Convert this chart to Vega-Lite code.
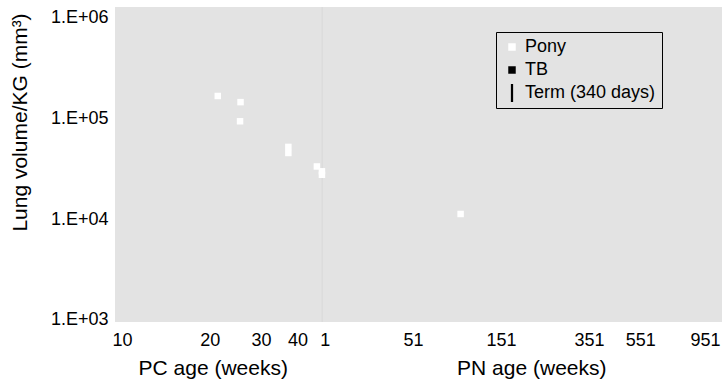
{
  "$schema": "https://vega.github.io/schema/vega-lite/v6.json",
  "width": 607,
  "height": 315,
  "autosize": {"type": "none"},
  "padding": {"left": 115, "top": 7, "right": 2, "bottom": 58},
  "background": "#ffffff",
  "config": {
    "font": "Liberation Sans",
    "view": {"fill": "#e3e3e3", "stroke": null},
    "axis": {"grid": false, "domain": false, "ticks": false, "labelColor": "#000000", "titleColor": "#000000", "titleFontWeight": "normal"}
  },
  "datasets": {
    "points": [
      {"series": "Pony", "pc_weeks": 21.3, "lung_volume_per_kg": 168000},
      {"series": "Pony", "pc_weeks": 25.5, "lung_volume_per_kg": 146000},
      {"series": "Pony", "pc_weeks": 25.4, "lung_volume_per_kg": 94200},
      {"series": "Pony", "pc_weeks": 37.2, "lung_volume_per_kg": 52400},
      {"series": "Pony", "pc_weeks": 37.2, "lung_volume_per_kg": 45600},
      {"series": "Pony", "pc_weeks": 46.6, "lung_volume_per_kg": 33500},
      {"series": "Pony", "pc_weeks": 48.5, "lung_volume_per_kg": 30000},
      {"series": "Pony", "pc_weeks": 48.5, "lung_volume_per_kg": 27700},
      {"series": "Pony", "pc_weeks": 145, "lung_volume_per_kg": 11300}
    ],
    "term": [
      {"series": "Term (340 days)", "pc_weeks": 48.57}
    ]
  },
  "layer": [
    {
      "data": {"name": "term"},
      "mark": {"type": "rule", "color": "#d8d8d8", "strokeWidth": 1},
      "encoding": {
        "x": {"field": "pc_weeks", "type": "quantitative"}
      }
    },
    {
      "data": {"name": "points"},
      "mark": {"type": "point", "filled": true, "size": 42, "opacity": 1, "strokeWidth": 0},
      "encoding": {
        "x": {
          "field": "pc_weeks",
          "type": "quantitative",
          "scale": {"type": "log", "domain": [9.46, 1143], "nice": false, "zero": false},
          "axis": {
            "values": [10, 20, 30, 40, 49.57, 99.57, 199.57, 399.57, 599.57, 999.57],
            "labelExpr": "datum.value < 45 ? format(datum.value, 'd') : format(datum.value - 48.57, '.0f')",
            "labelFontSize": 18,
            "labelPadding": 9,
            "labelOverlap": false,
            "labelFlush": false,
            "title": "PC age (weeks)\u00a0\u00a0\u00a0\u00a0\u00a0\u00a0\u00a0\u00a0\u00a0\u00a0\u00a0\u00a0\u00a0\u00a0\u00a0\u00a0\u00a0\u00a0\u00a0\u00a0\u00a0\u00a0\u00a0\u00a0\u00a0\u00a0\u00a0\u00a0\u00a0PN age (weeks)",
            "titleFontSize": 21,
            "titleX": 257,
            "titleY": 52,
            "titleAlign": "center",
            "titleBaseline": "alphabetic"
          }
        },
        "y": {
          "field": "lung_volume_per_kg",
          "type": "quantitative",
          "scale": {"type": "log", "domain": [955, 1286000], "nice": false, "zero": false},
          "axis": {
            "values": [1000, 10000, 100000, 1000000],
            "labelExpr": "'1.E+0' + format(log(datum.value) / log(10), '.0f')",
            "labelFontSize": 18,
            "labelPadding": 7,
            "title": "Lung volume/KG (mm³)",
            "titleFontSize": 21,
            "titleX": -89,
            "titleY": 115,
            "titleAlign": "center",
            "titleBaseline": "alphabetic",
            "titleAngle": -90
          }
        },
        "color": {
          "field": "series",
          "type": "nominal",
          "scale": {"domain": ["Pony", "TB", "Term (340 days)"], "range": ["#ffffff", "#000000", "#000000"]},
          "legend": {
            "title": null,
            "orient": "none",
            "legendX": 381,
            "legendY": 25,
            "padding": 6,
            "symbolOffset": 1,
            "labelOffset": 4,
            "labelFontSize": 18,
            "labelColor": "#000000",
            "rowPadding": 5,
            "symbolSize": 56,
            "symbolStrokeWidth": 0,
            "strokeColor": "#000000",
            "fillColor": null,
            "labelLimit": 300,
            "encode": {"legend": {"update": {"strokeWidth": {"value": 1.5}}}}
          }
        },
        "shape": {
          "field": "series",
          "type": "nominal",
          "scale": {"domain": ["Pony", "TB", "Term (340 days)"], "range": ["square", "square", "M-0.3,-2.4L0.3,-2.4L0.3,2.4L-0.3,2.4Z"]},
          "legend": null
        }
      }
    }
  ]
}
